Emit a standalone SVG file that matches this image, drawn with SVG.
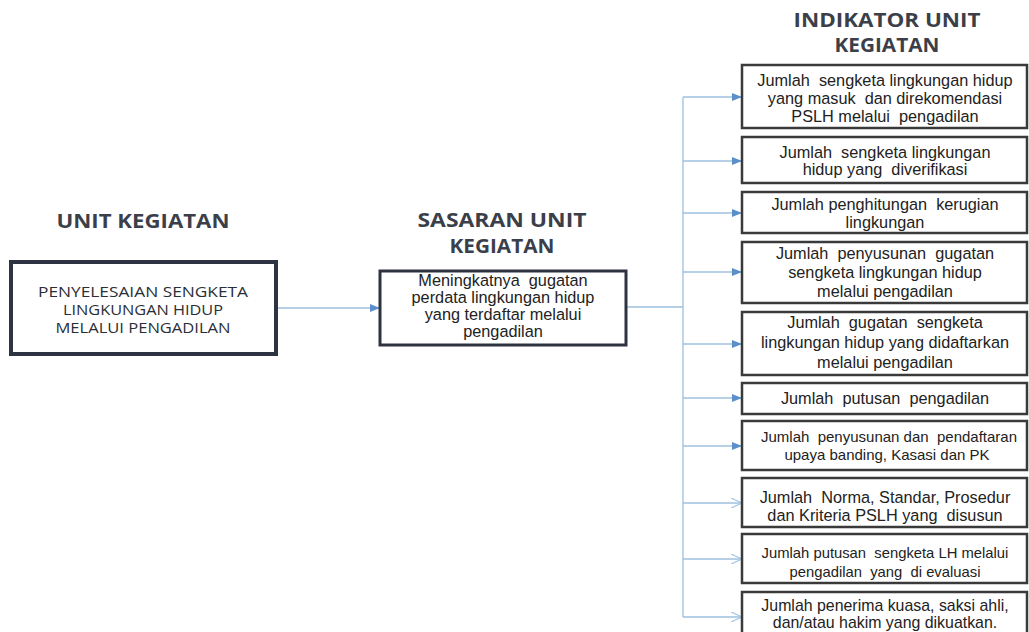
<svg xmlns="http://www.w3.org/2000/svg" width="1029" height="632" viewBox="0 0 1029 632">
<defs>
<style>
.title{font-family:"Open Sans","Liberation Sans",sans-serif;font-weight:bold;font-size:19px;fill:#3b3f4a;text-anchor:middle}
.lbl{font-family:"Open Sans","Liberation Sans",sans-serif;font-size:14px;fill:#2a2e36;text-anchor:middle}
.txt{font-family:"Liberation Sans",Arial,sans-serif;font-size:16.3px;fill:#222;text-anchor:middle;white-space:pre}
.sm{font-size:15px}
.box{fill:#fff;stroke:#3a3a3a;stroke-width:2.5}
.conn{fill:none;stroke:#9dc0df;stroke-width:1.3}
</style>
<marker id="tri" markerWidth="10" markerHeight="8" refX="10" refY="4" orient="auto" markerUnits="userSpaceOnUse"><path d="M0,0 L10,4 L0,8 z" fill="#5b8fc9"/></marker>
<marker id="open" markerWidth="12" markerHeight="10" refX="11" refY="5" orient="auto" markerUnits="userSpaceOnUse"><path d="M0,0 L11,5 L0,10" fill="none" stroke="#a9c8e2" stroke-width="1.2"/></marker>
</defs>
<rect width="1029" height="632" fill="#fff"/>

<g id="titles">
<text class="title" x="143" y="228" textLength="173" lengthAdjust="spacingAndGlyphs">UNIT KEGIATAN</text>
<text class="title" x="502" y="227" textLength="169" lengthAdjust="spacingAndGlyphs">SASARAN UNIT</text>
<text class="title" x="502" y="253" textLength="105" lengthAdjust="spacingAndGlyphs">KEGIATAN</text>
<text class="title" x="887" y="27" textLength="187" lengthAdjust="spacingAndGlyphs">INDIKATOR UNIT</text>
<text class="title" x="887" y="52" textLength="105" lengthAdjust="spacingAndGlyphs">KEGIATAN</text>
</g>

<g id="connectors">
<line class="conn" x1="277" y1="308" x2="380" y2="308" marker-end="url(#tri)"/>
<line class="conn" x1="627" y1="307" x2="683" y2="307"/>
<line class="conn" x1="683" y1="97" x2="683" y2="617" stroke="#8fb4d9"/>
<line class="conn" x1="683" y1="97" x2="742" y2="97" marker-end="url(#tri)"/>
<line class="conn" x1="683" y1="161" x2="742" y2="161" marker-end="url(#tri)"/>
<line class="conn" x1="683" y1="213" x2="742" y2="213" marker-end="url(#tri)"/>
<line class="conn" x1="683" y1="272" x2="742" y2="272" marker-end="url(#tri)"/>
<line class="conn" x1="683" y1="344" x2="742" y2="344" marker-end="url(#tri)"/>
<line class="conn" x1="683" y1="398" x2="742" y2="398" marker-end="url(#tri)"/>
<line class="conn" x1="683" y1="446" x2="742" y2="446" marker-end="url(#tri)"/>
<line class="conn" x1="683" y1="503" x2="742" y2="503" marker-end="url(#open)"/>
<line class="conn" x1="683" y1="559" x2="742" y2="559" marker-end="url(#open)"/>
<line class="conn" x1="683" y1="617" x2="742" y2="617" marker-end="url(#open)"/>
</g>

<g id="unit">
<rect x="11" y="262" width="265" height="92" fill="#fff" stroke="#2d3340" stroke-width="4"/>
<text class="lbl" x="143" y="297" textLength="210" lengthAdjust="spacingAndGlyphs">PENYELESAIAN SENGKETA</text>
<text class="lbl" x="143" y="315" textLength="160" lengthAdjust="spacingAndGlyphs">LINGKUNGAN HIDUP</text>
<text class="lbl" x="143" y="333" textLength="175" lengthAdjust="spacingAndGlyphs">MELALUI PENGADILAN</text>
</g>

<g id="sasaran">
<rect x="380" y="271" width="246" height="74" fill="#fff" stroke="#2d3340" stroke-width="3"/>
<text class="txt" x="503" y="286">Meningkatnya  gugatan</text>
<text class="txt" x="503" y="303">perdata lingkungan hidup</text>
<text class="txt" x="503" y="320">yang terdaftar melalui</text>
<text class="txt" x="503" y="337">pengadilan</text>
</g>

<g id="ind1">
<rect class="box" x="742" y="65" width="285" height="63"/>
<text class="txt" x="885" y="86">Jumlah  sengketa lingkungan hidup</text>
<text class="txt" x="885" y="104">yang masuk  dan direkomendasi</text>
<text class="txt" x="885" y="122">PSLH melalui  pengadilan</text>
</g>
<g id="ind2">
<rect class="box" x="742" y="137" width="285" height="46"/>
<text class="txt" x="885" y="158">Jumlah  sengketa lingkungan</text>
<text class="txt" x="885" y="175">hidup yang  diverifikasi</text>
</g>
<g id="ind3">
<rect class="box" x="742" y="192" width="285" height="41"/>
<text class="txt" x="885" y="210">Jumlah penghitungan  kerugian</text>
<text class="txt" x="885" y="228">lingkungan</text>
</g>
<g id="ind4">
<rect class="box" x="742" y="242" width="285" height="61"/>
<text class="txt" x="885" y="259">Jumlah  penyusunan  gugatan</text>
<text class="txt" x="885" y="278">sengketa lingkungan hidup</text>
<text class="txt" x="885" y="297">melalui pengadilan</text>
</g>
<g id="ind5">
<rect class="box" x="742" y="312" width="285" height="63"/>
<text class="txt" x="885" y="328">Jumlah  gugatan  sengketa</text>
<text class="txt" x="885" y="348">lingkungan hidup yang didaftarkan</text>
<text class="txt" x="885" y="368">melalui pengadilan</text>
</g>
<g id="ind6">
<rect class="box" x="742" y="383" width="285" height="31"/>
<text class="txt" x="885" y="404">Jumlah  putusan  pengadilan</text>
</g>
<g id="ind7">
<rect class="box" x="742" y="421" width="285" height="49"/>
<text class="txt sm" x="889" y="442">Jumlah  penyusunan dan  pendaftaran</text>
<text class="txt sm" x="887" y="460">upaya banding, Kasasi dan PK</text>
</g>
<g id="ind8">
<rect class="box" x="742" y="478" width="285" height="49"/>
<text class="txt" x="885" y="503">Jumlah  Norma, Standar, Prosedur</text>
<text class="txt" x="885" y="521">dan Kriteria PSLH yang  disusun</text>
</g>
<g id="ind9">
<rect class="box" x="742" y="534" width="285" height="49"/>
<text class="txt" x="885" y="558" style="font-size:14.8px">Jumlah putusan  sengketa LH melalui</text>
<text class="txt" x="885" y="577" style="font-size:14.8px">pengadilan  yang  di evaluasi</text>
</g>
<g id="ind10">
<rect class="box" x="742" y="592" width="285" height="60"/>
<text class="txt" x="885" y="611" style="font-size:15.9px">Jumlah penerima kuasa, saksi ahli,</text>
<text class="txt" x="885" y="628" style="font-size:15.9px">dan/atau hakim yang dikuatkan.</text>
</g>
</svg>
